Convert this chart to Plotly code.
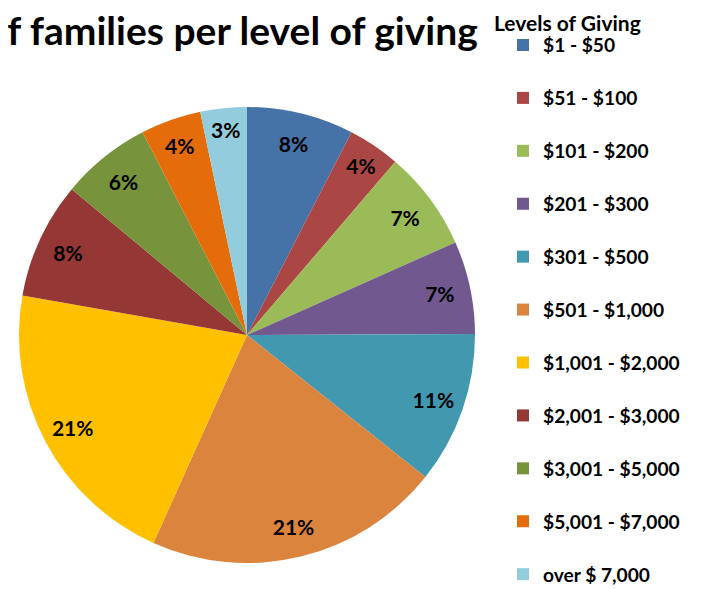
import plotly.graph_objects as go

levels = ["$1 - $50", "$51 - $100", "$101 - $200", "$201 - $300", "$301 - $500",
          "$501 - $1,000", "$1,001 - $2,000", "$2,001 - $3,000", "$3,001 - $5,000",
          "$5,001 - $7,000", "over $ 7,000"]
shares = [7.6, 3.7, 7.1, 6.6, 10.8, 21.1, 21.1, 8.3, 6.4, 4.3, 3.3]
colors = ["#4572A7", "#AA4643", "#9BBB59", "#71588F", "#4198AF", "#DB843D",
          "#FFC000", "#953735", "#77933C", "#E46C0A", "#93CDDD"]

W, H = 706, 589
cx, cy, R = 239, 327, 228
dom_x = [(cx - R) / W, (cx + R) / W]
dom_y = [(H - cy - R) / H, (H - cy + R) / H]

# blank second line spaces the legend entries like the original
legend_labels = [l + "<br> " for l in levels[:-1]] + [levels[-1]]

fig = go.Figure()
fig.add_trace(go.Pie(
    labels=legend_labels, values=shares, customdata=levels,
    marker=dict(colors=colors, line=dict(width=0)),
    sort=False, direction="clockwise", rotation=0,
    textinfo="none", domain=dict(x=dom_x, y=dom_y),
    hovertemplate="%{customdata}: %{percent}<extra></extra>",
))
fig.add_trace(go.Pie(
    labels=levels, values=shares, hole=0.73,
    marker=dict(colors=["rgba(0,0,0,0)"] * len(levels), line=dict(width=0)),
    sort=False, direction="clockwise", rotation=0,
    texttemplate="%{percent:.0%}", textposition="inside",
    insidetextorientation="horizontal",
    textfont=dict(family="Lato", size=21, color="black", weight="bold"),
    domain=dict(x=dom_x, y=dom_y), showlegend=False, hoverinfo="skip",
))

fig.add_annotation(
    text="<b>% of families per level of giving</b>",
    xref="paper", yref="paper", x=472 / W, y=(H - 22) / H,
    xanchor="right", yanchor="middle", showarrow=False,
    font=dict(family="Lato", size=39, color="black"),
)
fig.add_annotation(
    text="<b>Levels of Giving</b>",
    xref="paper", yref="paper", x=484 / W, y=(H - 14) / H,
    xanchor="left", yanchor="middle", showarrow=False,
    font=dict(family="Lato", size=21, color="black"),
)

fig.update_layout(
    width=W, height=H,
    margin=dict(l=0, r=0, t=0, b=0),
    paper_bgcolor="white", plot_bgcolor="white",
    uniformtext=dict(minsize=21, mode="show"),
    legend=dict(
        font=dict(family="Lato", size=19.2, color="black", weight="bold"),
        x=495 / W, y=1 - 18 / H, xanchor="left", yanchor="top",
        valign="top", traceorder="normal", maxheight=700,
    ),
)

fig.write_html("out.html")
